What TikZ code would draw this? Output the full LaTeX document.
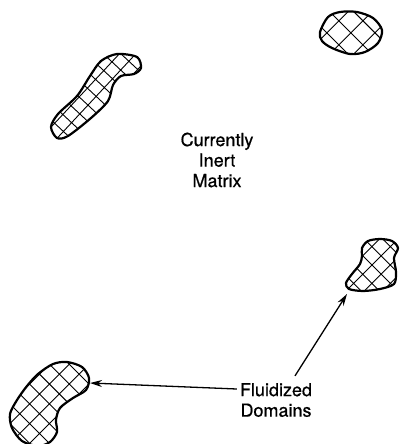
\documentclass[tikz,border=0pt]{standalone}
\usepackage{fontspec}
\setmainfont[FakeBold=0.6]{TeX Gyre Heros}
\usetikzlibrary{arrows.meta,calc}
\tikzset{
  blob/.style={line width=2.2pt, line join=round},
  hatch/.style={line width=0.9pt},
  hatched/.style 2 args={path picture={
    \draw[hatch, shift={(path picture bounding box.center)}, rotate=#1]
      (-90,-90) grid[step=#2] (90,90);}},
  arr/.style={line width=1.3pt, -{Stealth[length=12pt,width=7pt]}},
  lbl/.style={align=center, inner sep=0pt, font=\fontsize{18}{20.5}\selectfont}
}
\begin{document}
\begin{tikzpicture}[x=1pt,y=-1pt]
\useasboundingbox (0,0) rectangle (400,444);
\draw[blob, hatched={47}{12pt}] plot[smooth cycle] coordinates {(51,127) (57,138) (68,136) (91,118) (108,101) (113,85) (121,76) (134,74) (141,68) (137,57) (117,54) (101,61) (90,76) (77,96) (58,114)};
\draw[blob, hatched={45}{17pt}] plot[smooth cycle] coordinates {(320,32) (328,17) (340,12) (357,12) (373,18) (382,30) (378,43) (365,52) (350,54) (332,48) (322,41)};
\draw[blob, hatched={45}{13pt}] plot[smooth cycle] coordinates {(362,248) (368,241) (380,239) (392,241) (398,248) (394,258) (396,272) (394,284) (380,289) (363,291) (349,289) (346,283) (352,274) (360,264) (362,256)};
\draw[blob, hatched={45}{14pt}] plot[smooth cycle] coordinates {(53,364) (67,362) (82,367) (89,378) (86,390) (73,398) (60,408) (56,420) (57,432) (50,442) (38,446) (22,441) (12,428) (10,414) (17,400) (27,386) (38,374)};
\node[lbl] (matrix) at (217,160) {Currently\\Inert\\Matrix};
\node[lbl] (fluid) at (276,400) {Fluidized\\Domains};
\coordinate (tipL) at (90,383);
\coordinate (tipR) at (347,294);
\draw[arr] ($(fluid.west)+(-3,-11)$) -- (tipL);
\draw[arr] ($(fluid.north)+(19,-7)$) -- (tipR);
\end{tikzpicture}
\end{document}
